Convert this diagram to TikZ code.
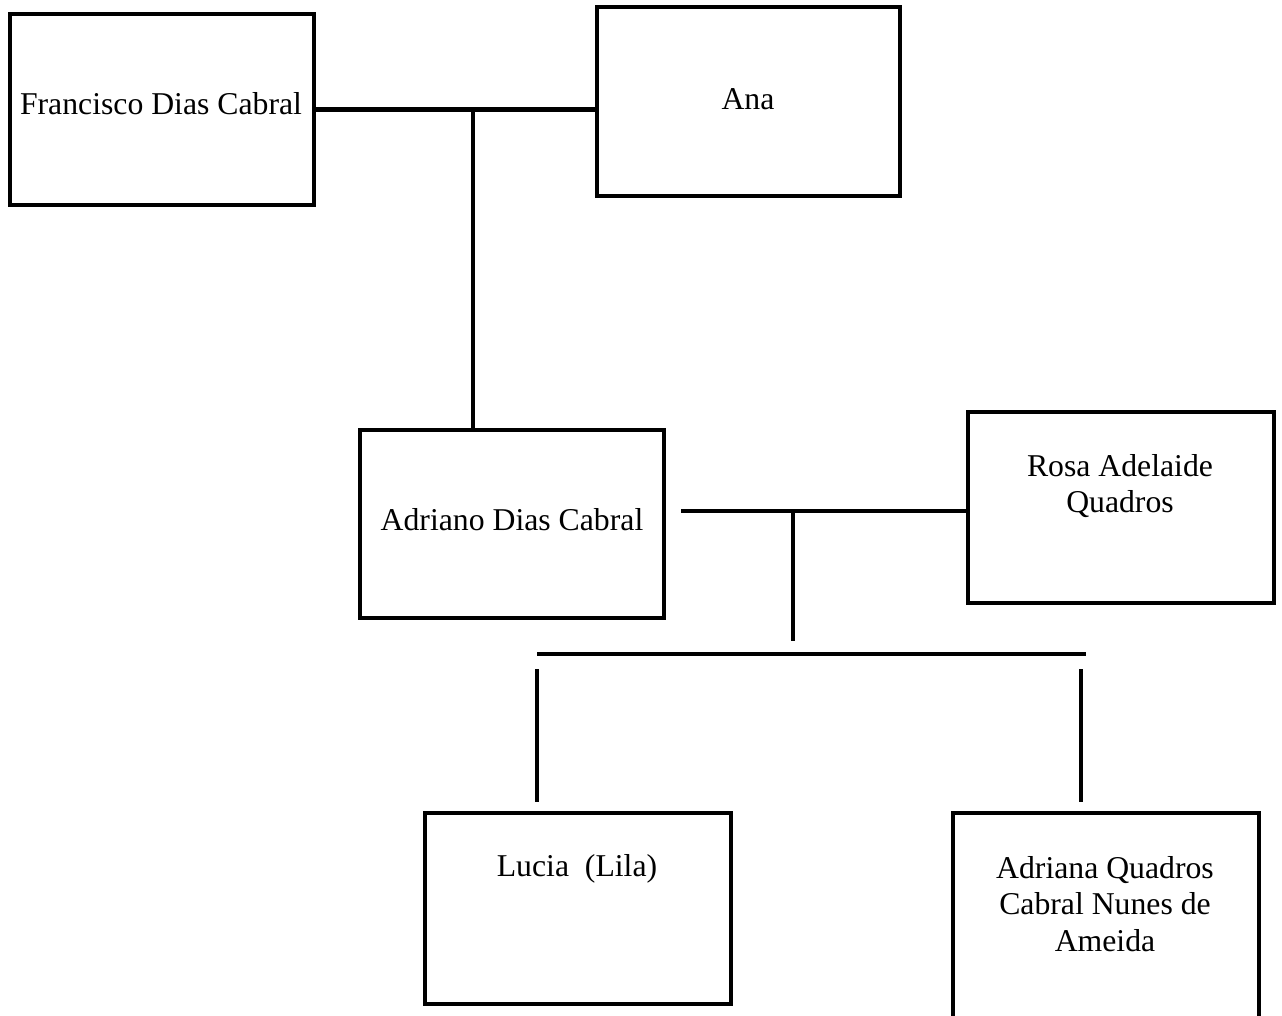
\documentclass[tikz,border=0pt]{standalone}
\usepackage{fontspec}
\setmainfont{Liberation Serif}
\begin{document}
\begin{tikzpicture}[x=0.75pt,y=-0.75pt,
  box/.style={draw=black,line width=3.5pt,rectangle,inner sep=0pt,outer sep=0pt,fill=white},
  lbl/.style={inner sep=0pt,align=center,font=\fontsize{23.8}{27.5}\selectfont},
  conn/.style={draw=black,line width=3.5pt}]
\useasboundingbox[fill=white] (0,0) rectangle (1282,1016);
% boxes
\node[box,minimum width=304*0.75pt,minimum height=191*0.75pt] (fr) at (162,109.5) {};
\node[box,minimum width=303*0.75pt,minimum height=189*0.75pt] (an) at (748.5,101.5) {};
\node[box,minimum width=304*0.75pt,minimum height=188*0.75pt] (ad) at (512,524) {};
\node[box,minimum width=306*0.75pt,minimum height=191*0.75pt] (ro) at (1121,507.5) {};
\node[box,minimum width=306*0.75pt,minimum height=191*0.75pt] (lu) at (578,908.5) {};
\node[box,minimum width=306*0.75pt,minimum height=209*0.75pt] (aq) at (1106,917.5) {};
% labels
\node[lbl] (tfr) at (161,104) {Francisco Dias Cabral};
\node[lbl] (tan) at (748,99) {Ana};
\node[lbl] (tad) at (512,520) {Adriano Dias Cabral};
\node[lbl] (tro) at (1120,486) {Rosa Adelaide\\Quadros};
\node[lbl] (tlu) at (577,869) {Lucia\ \ (Lila)};
\node[lbl] (taq) at (1105,904) {Adriana Quadros\\Cabral Nunes de\\Ameida};
% junction coordinates
\coordinate (j1) at (473,109.5);
\coordinate (m2a) at (681,511);
\coordinate (j2) at (793,511);
\coordinate (j2b) at (793,641);
\coordinate (barL) at (537,654);
\coordinate (barR) at (1086,654);
\coordinate (luT) at (537,669);
\coordinate (luB) at (537,802);
\coordinate (aqT) at (1081,669);
\coordinate (aqB) at (1081,802);
% connectors
\draw[conn] (fr.east) -- (fr.east -| an.west);
\draw[conn] (j1) -- (j1 |- ad.north);
\draw[conn] (m2a) -- (m2a -| ro.west);
\draw[conn] (j2) -- (j2b);
\draw[conn] (barL) -- (barR);
\draw[conn] (luT) -- (luB);
\draw[conn] (aqT) -- (aqB);
\end{tikzpicture}
\end{document}
